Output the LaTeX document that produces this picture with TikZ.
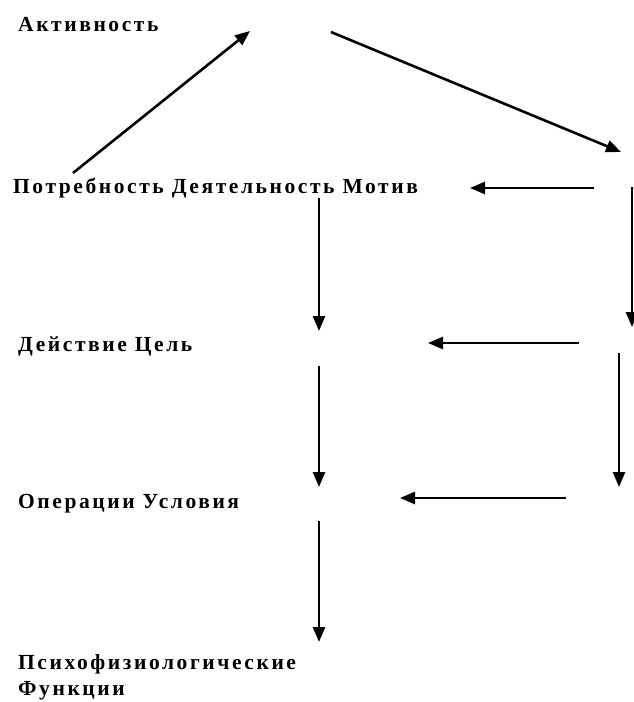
\documentclass[tikz,border=0pt]{standalone}
\usepackage{fontspec}
\setmainfont{Liberation Serif}[LetterSpace=12]
\usetikzlibrary{arrows.meta}
\begin{document}
\begin{tikzpicture}[x=1pt,y=-1pt,
  lbl/.style={anchor=base west, inner sep=0pt, font=\fontsize{21.5}{25}\selectfont\bfseries},
  arr/.style={line width=2.6pt, -{Triangle[length=15pt,width=12pt,fill=black]}}]
\useasboundingbox (0,0) rectangle (633,702);
\node[lbl] (akt) at (18,31) {Активность};
\node[lbl] (potr) at (13,193) {Потребность Деятельность Мотив};
\node[lbl] (deyst) at (18,351) {Действие Цель};
\node[lbl] (oper) at (18,508) {Операции Условия};
\node[lbl] (psy) at (18,669) {Психофизиологические};
\node[lbl] (fun) at (18,695) {Функции};
% arrow end points
\coordinate (a1s) at (73,173);  \coordinate (a1e) at (250,31);
\coordinate (a2s) at (331,32);  \coordinate (a2e) at (621,152);
\coordinate (a3s) at (594,188); \coordinate (a3e) at (470,188);
\coordinate (a4s) at (319,198); \coordinate (a4e) at (319,331);
\coordinate (a5s) at (632,187); \coordinate (a5e) at (632,327);
\coordinate (a6s) at (579,343); \coordinate (a6e) at (428,343);
\coordinate (a7s) at (319,366); \coordinate (a7e) at (319,487);
\coordinate (a8s) at (619,353); \coordinate (a8e) at (619,487);
\coordinate (a9s) at (566,498); \coordinate (a9e) at (400,498);
\coordinate (a10s) at (319,521); \coordinate (a10e) at (319,642);
\draw[arr] (a1s) -- (a1e);
\draw[arr] (a2s) -- (a2e);
\draw[arr] (a3s) -- (a3e);
\draw[arr] (a4s) -- (a4e);
\draw[arr] (a5s) -- (a5e);
\draw[arr] (a6s) -- (a6e);
\draw[arr] (a7s) -- (a7e);
\draw[arr] (a8s) -- (a8e);
\draw[arr] (a9s) -- (a9e);
\draw[arr] (a10s) -- (a10e);
\end{tikzpicture}
\end{document}
